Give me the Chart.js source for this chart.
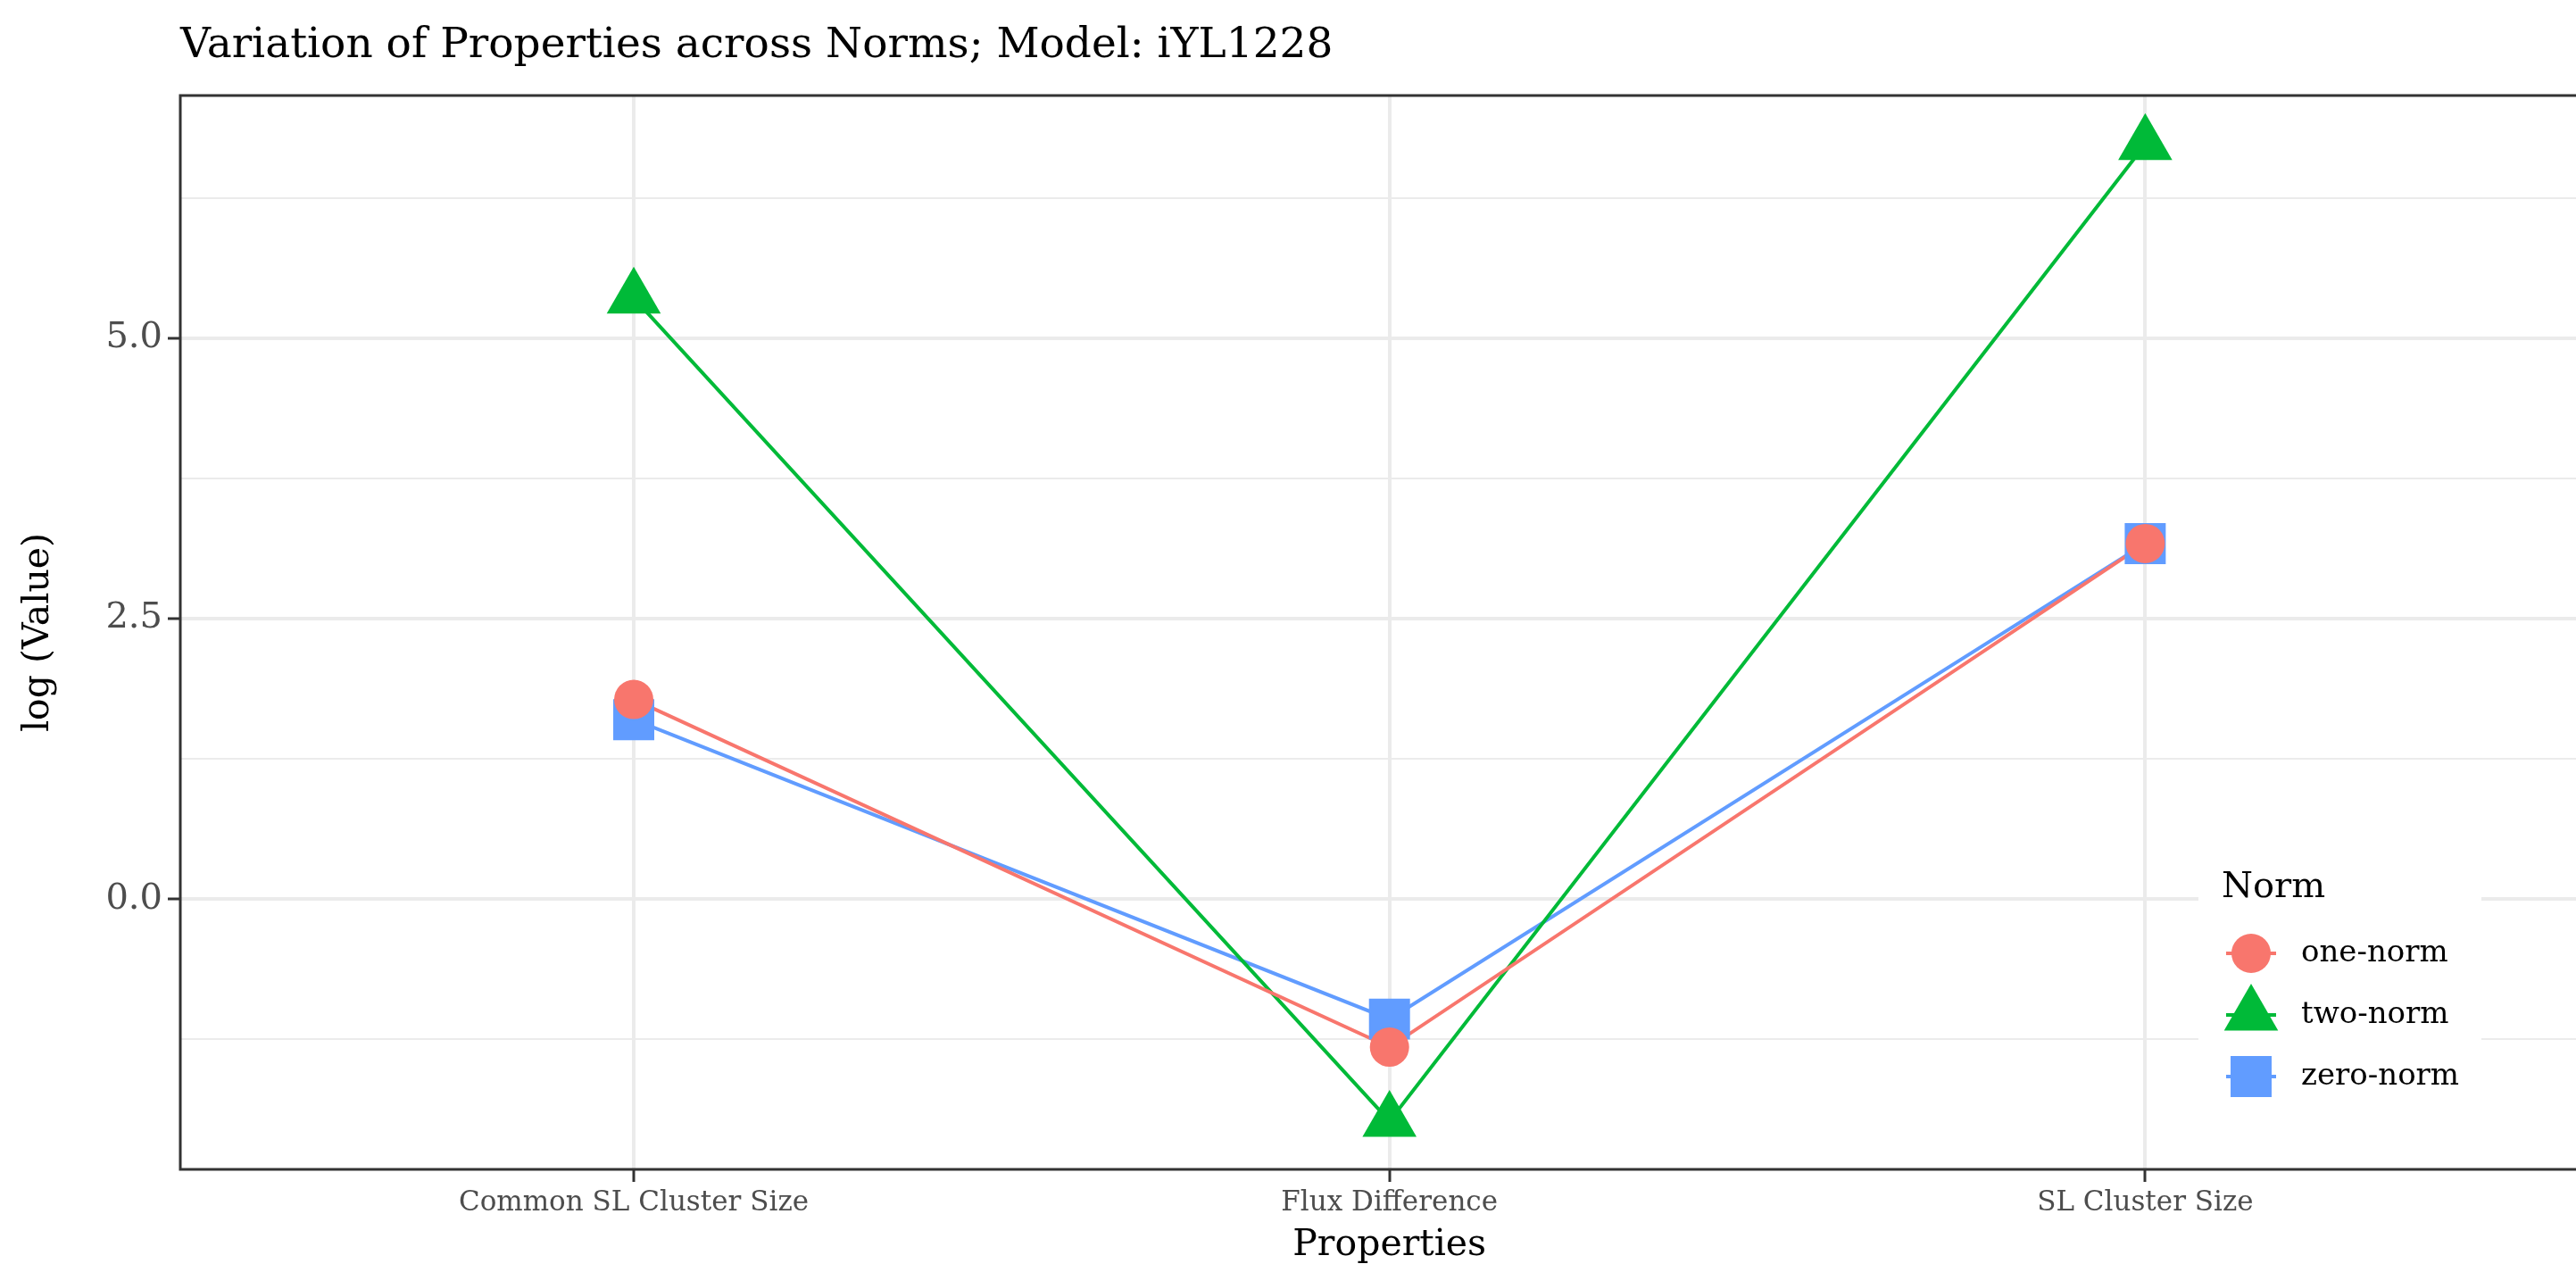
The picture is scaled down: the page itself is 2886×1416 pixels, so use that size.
<!DOCTYPE html>
<html>
<head>
<meta charset="utf-8">
<title>Variation of Properties across Norms; Model: iYL1228</title>
<script src="https://cdn.jsdelivr.net/npm/chart.js@4.4.1/dist/chart.umd.min.js"></script>
<style>
  html, body { margin: 0; padding: 0; background: #fff; overflow: hidden; }
  canvas { display: block; }
</style>
</head>
<body>
<canvas id="normchart" width="2886" height="1416"></canvas>
<script>
// values (log scale already applied)
const properties = ["Common SL Cluster Size", "Flux Difference", "SL Cluster Size"];
const norms = ["one-norm", "two-norm", "zero-norm"];
const oneNorm = [1.78, -1.32, 3.17];
const twoNorm = [5.36, -1.98, 6.73];
const zeroNorm = [1.60, -1.07, 3.17];
const yMajorTicks = [0, 2.5, 5];
const yMinorTicks = [-1.25, 1.25, 3.75, 6.25];

const chartTitle = "Variation of Properties across Norms; Model: iYL1228";
const xTitle = "Properties";
const yTitle = "log (Value)";
const legendTitle = "Norm";

const normColors = ["#F8766D", "#00BA38", "#619CFF"];
const normShapes = ["circle", "triangle", "rect"];
const normRadius = [22, 35, 32.5];
const FONT = "'DejaVu Serif', serif";

const series = [oneNorm, twoNorm, zeroNorm];
const toPoints = vals => vals.map((v, i) => ({ x: i, y: v }));

// ggplot draws every line first and the points on top of them
const lineSets = series.map((vals, i) => ({
  label: norms[i] + " line",
  data: toPoints(vals),
  borderColor: normColors[i],
  borderWidth: 4,
  pointRadius: 0,
  fill: false,
  tension: 0,
  order: 10 + i
}));
const pointSets = series.map((vals, i) => ({
  label: norms[i],
  data: toPoints(vals),
  showLine: false,
  pointStyle: normShapes[i],
  pointRadius: normRadius[i],
  pointHoverRadius: normRadius[i],
  pointBackgroundColor: normColors[i],
  pointBorderWidth: 0,
  order: [1, 2, 1.5][i]
}));

const decorations = {
  id: "decorations",
  afterDraw(chart) {
    const ctx = chart.ctx;
    const a = chart.chartArea;
    ctx.save();

    // panel border (right side falls off the picture)
    ctx.strokeStyle = "#333333";
    ctx.lineWidth = 3;
    ctx.beginPath();
    ctx.moveTo(a.right + 2, a.top);
    ctx.lineTo(a.left, a.top);
    ctx.lineTo(a.left, a.bottom);
    ctx.lineTo(a.right + 2, a.bottom);
    ctx.stroke();

    // title
    ctx.fillStyle = "#000";
    ctx.textAlign = "left";
    ctx.textBaseline = "middle";
    ctx.font = "47px " + FONT;
    ctx.fillText(chartTitle, 202, 52);

    // axis titles
    ctx.textAlign = "center";
    ctx.font = "41px " + FONT;
    const xs = chart.scales.x;
    ctx.fillText(xTitle, xs.getPixelForValue(1), 1395);
    ctx.save();
    ctx.translate(43, (a.top + a.bottom) / 2);
    ctx.rotate(-Math.PI / 2);
    ctx.fillText(yTitle, 0, 0);
    ctx.restore();

    // legend
    ctx.fillStyle = "#fff";
    ctx.fillRect(2463, 955, 317, 305);
    ctx.fillStyle = "#000";
    ctx.textAlign = "left";
    ctx.textBaseline = "alphabetic";
    ctx.font = "40px " + FONT;
    ctx.fillText(legendTitle, 2489, 1005);
    ctx.font = "34px " + FONT;
    ctx.textBaseline = "middle";
    norms.forEach((name, i) => {
      const y = 1068 + i * 69;
      ctx.strokeStyle = normColors[i];
      ctx.lineWidth = 4;
      ctx.beginPath();
      ctx.moveTo(2494, y);
      ctx.lineTo(2550, y);
      ctx.stroke();
      ctx.fillStyle = normColors[i];
      Chart.helpers.drawPoint(ctx, {
        pointStyle: normShapes[i],
        radius: normRadius[i],
        rotation: 0,
        borderWidth: 0
      }, 2522, y);
      ctx.fillStyle = "#000";
      ctx.fillText(name, 2578, y);
    });
    ctx.restore();
  }
};

const isMajor = v => yMajorTicks.includes(v);
const noLabelPadding = s => {
  s.paddingLeft = 0;
  s.paddingRight = 0;
  s.paddingTop = 0;
  s.paddingBottom = 0;
};

new Chart(document.getElementById("normchart"), {
  type: "line",
  data: { datasets: [...lineSets, ...pointSets] },
  options: {
    responsive: false,
    animation: false,
    devicePixelRatio: 1,
    layout: { autoPadding: false, padding: { top: 107, left: 0, right: 0, bottom: 0 } },
    plugins: {
      legend: { display: false },
      title: { display: false },
      tooltip: { enabled: false }
    },
    scales: {
      x: {
        type: "linear",
        min: -0.6,
        max: 2.57,
        afterBuildTicks: s => { s.ticks = properties.map((p, i) => ({ value: i })); },
        afterFit: s => { s.height = 106; noLabelPadding(s); },
        border: { display: false },
        grid: { color: "#EBEBEB", lineWidth: 4, tickLength: 14, tickColor: "#333333", tickWidth: 3 },
        ticks: {
          callback: v => properties[v],
          color: "#4D4D4D",
          font: { family: FONT, size: 31 },
          padding: 5,
          maxRotation: 0,
          autoSkip: false
        }
      },
      y: {
        type: "linear",
        min: -2.41,
        max: 7.165,
        afterBuildTicks: s => {
          s.ticks = [...yMajorTicks, ...yMinorTicks].sort((p, q) => p - q).map(v => ({ value: v }));
        },
        afterFit: s => { s.width = 202; noLabelPadding(s); },
        border: { display: false },
        grid: {
          color: "#EBEBEB",
          lineWidth: c => isMajor(c.tick.value) ? 4 : 2,
          tickLength: 14,
          tickWidth: 3,
          tickColor: c => isMajor(c.tick.value) ? "#333333" : "rgba(0,0,0,0)"
        },
        ticks: {
          callback: v => isMajor(v) ? v.toFixed(1) : "",
          color: "#4D4D4D",
          font: { family: FONT, size: 40 },
          padding: 6,
          autoSkip: false
        }
      }
    }
  },
  plugins: [decorations]
});
</script>
</body>
</html>
